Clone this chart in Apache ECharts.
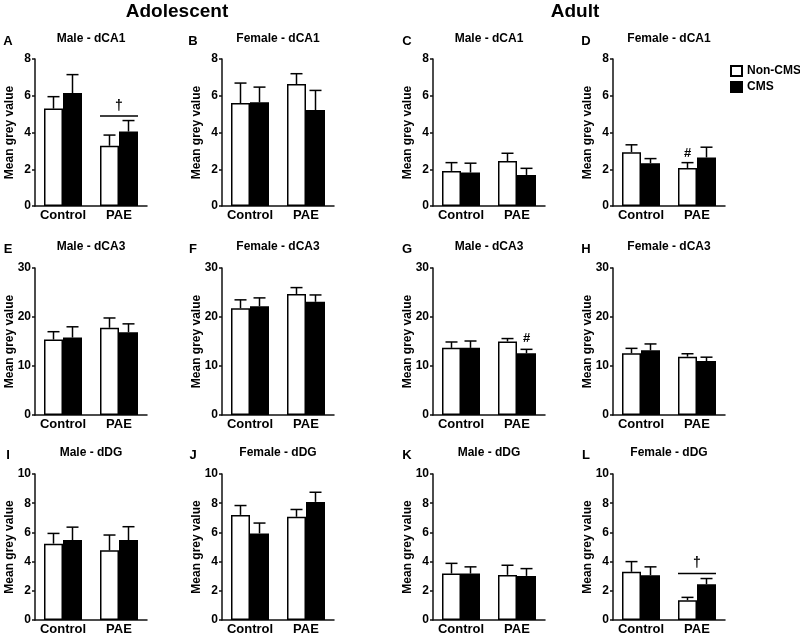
<!DOCTYPE html>
<html><head><meta charset="utf-8">
<script src="https://cdn.jsdelivr.net/npm/echarts@6/dist/echarts.min.js"></script>
<style>html,body{margin:0;padding:0;background:#fff}#chart{width:800px;height:636px}</style>
</head><body><div id="chart"></div>
<script>
// ---------- DATA ----------
const categories = ['Control', 'PAE'];
const seriesNames = ['Non-CMS', 'CMS'];
const groupHeaders = ['Adolescent', 'Adult'];
const panelLetters = ['A','B','C','D','E','F','G','H','I','J','K','L'];
const panelTitles = ['Male - dCA1','Female - dCA1','Male - dCA1','Female - dCA1',
                     'Male - dCA3','Female - dCA3','Male - dCA3','Female - dCA3',
                     'Male - dDG','Female - dDG','Male - dDG','Female - dDG'];
const yAxisName = 'Mean grey value';
const rowAxisMax = [8, 30, 10];
const rowAxisInterval = [2, 10, 2];
// [Control, PAE] per panel A..L
const nonCmsMean = [[5.3,3.28],[5.6,6.64],[1.91,2.45],[2.93,2.07],
                    [15.4,17.8],[21.8,24.7],[13.7,15.0],[12.6,11.9],
                    [5.23,4.77],[7.2,7.07],[3.18,3.09],[3.3,1.36]];
const nonCmsSem  = [[0.65,0.58],[1.09,0.56],[0.45,0.42],[0.40,0.29],
                    [1.6,2.0],[1.7,1.3],[1.2,0.6],[1.0,0.6],
                    [0.7,1.05],[0.64,0.5],[0.7,0.66],[0.7,0.19]];
const cmsMean    = [[6.15,4.05],[5.64,5.22],[1.82,1.69],[2.33,2.64],
                    [15.8,16.9],[22.2,23.1],[13.7,12.6],[13.2,11.0],
                    [5.48,5.48],[5.93,8.09],[3.18,3.02],[3.07,2.45]];
const cmsSem     = [[1.0,0.6],[0.83,1.07],[0.51,0.36],[0.25,0.56],
                    [2.2,1.7],[1.7,1.4],[1.4,0.8],[1.3,0.8],
                    [0.88,0.91],[0.71,0.66],[0.46,0.5],[0.57,0.39]];
// significance annotations
const daggerBrackets = [ {panel:0, cat:1, lineY:4.9, markY:5.45, mark:'\u2020'},
                         {panel:11, cat:1, lineY:3.18, markY:3.9, mark:'\u2020'} ];
const hashMarks = [ {panel:3, cat:1, bar:0, y:2.87, mark:'#'},
                    {panel:6, cat:1, bar:1, y:15.6, mark:'#'} ];

// ---------- LAYOUT ----------
const FONT = 'Liberation Sans, Arial, sans-serif';
const colLeft = [35, 222, 433, 613];
const gridWidth = 112;
const rowTop = [59, 268, 474];
const gridHeight = 147;
const titleY = [39, 247, 453];
const letterX = [8, 193, 407, 586];
const headerX = [177, 575];
const BAR_W = 19;

const chart = echarts.init(document.getElementById('chart'), null, {renderer:'canvas'});

function errorBarRenderer(offset) {
  return function (params, api) {
    const cat = api.value(0), mean = api.value(1), sem = api.value(2);
    const base = api.coord([cat, mean]);
    const top = api.coord([cat, mean + sem]);
    const x = base[0] + offset;
    return {type:'group', children:[
      {type:'line', shape:{x1:x, y1:base[1], x2:x, y2:top[1]}, style:{stroke:'#000', lineWidth:1.5}},
      {type:'line', shape:{x1:x-6, y1:top[1], x2:x+6, y2:top[1]}, style:{stroke:'#000', lineWidth:1.5}}
    ]};
  };
}

const grids = [], xAxes = [], yAxes = [], series = [], graphics = [];
for (let p = 0; p < 12; p++) {
  const r = Math.floor(p / 4), c = p % 4;
  grids.push({left: colLeft[c], top: rowTop[r], width: gridWidth, height: gridHeight});
  xAxes.push({type:'category', gridIndex:p, data:categories,
    axisLine:{lineStyle:{color:'#111', width:1.5}}, axisTick:{show:false},
    axisLabel:{interval:0, color:'#000', fontWeight:'bold', fontSize:13, fontFamily:FONT, margin:3}});
  yAxes.push({type:'value', gridIndex:p, min:0, max:rowAxisMax[r], interval:rowAxisInterval[r],
    name:yAxisName, nameLocation:'middle', nameGap:19, nameMoveOverlap:false,
    nameTextStyle:{color:'#000', fontWeight:'bold', fontSize:12, fontFamily:FONT},
    axisLine:{show:true, lineStyle:{color:'#111', width:1.5}},
    axisTick:{show:true, length:3, lineStyle:{color:'#111', width:1.5}},
    splitLine:{show:false},
    axisLabel:{color:'#000', fontWeight:'bold', fontSize:12, fontFamily:FONT, margin:4}});
  series.push({name:seriesNames[0], type:'bar', xAxisIndex:p, yAxisIndex:p, barWidth:BAR_W, barGap:'0%',
    itemStyle:{color:'#fff', borderColor:'#000', borderWidth:1.5}, data:nonCmsMean[p], z:2});
  series.push({name:seriesNames[1], type:'bar', xAxisIndex:p, yAxisIndex:p, barWidth:BAR_W, barGap:'0%',
    itemStyle:{color:'#000', borderColor:'#000', borderWidth:1.5}, data:cmsMean[p], z:2});
  series.push({type:'custom', xAxisIndex:p, yAxisIndex:p, z:3, silent:true, clip:false,
    renderItem:errorBarRenderer(-BAR_W/2),
    data:nonCmsMean[p].map((m,i)=>[i, m, nonCmsSem[p][i]])});
  series.push({type:'custom', xAxisIndex:p, yAxisIndex:p, z:3, silent:true, clip:false,
    renderItem:errorBarRenderer(BAR_W/2),
    data:cmsMean[p].map((m,i)=>[i, m, cmsSem[p][i]])});
  graphics.push({type:'text', x: colLeft[c] + gridWidth/2, y: titleY[r],
    style:{text:panelTitles[p], font:'bold 12px '+FONT, fill:'#000', textAlign:'center', textVerticalAlign:'middle', align:'center', verticalAlign:'middle'}});
  graphics.push({type:'text', x: letterX[c], y: titleY[r] + 2,
    style:{text:panelLetters[p], font:'bold 13px '+FONT, fill:'#000', textAlign:'center', textVerticalAlign:'middle', align:'center', verticalAlign:'middle'}});
}
headerX.forEach((x,i)=>graphics.push({type:'text', x:x, y:12,
  style:{text:groupHeaders[i], font:'bold 19px '+FONT, fill:'#000', textAlign:'center', textVerticalAlign:'middle', align:'center', verticalAlign:'middle'}}));

daggerBrackets.forEach(b=>{
  series.push({type:'custom', xAxisIndex:b.panel, yAxisIndex:b.panel, z:4, silent:true, clip:false,
    data:[[b.cat, b.lineY, b.markY]],
    renderItem:function(params, api){
      const pl = api.coord([api.value(0), api.value(1)]);
      const pm = api.coord([api.value(0), api.value(2)]);
      return {type:'group', children:[
        {type:'line', shape:{x1:pl[0]-BAR_W, y1:pl[1], x2:pl[0]+BAR_W, y2:pl[1]}, style:{stroke:'#000', lineWidth:1.5}},
        {type:'text', x:pm[0], y:pm[1], style:{text:b.mark, font:'bold 14px '+FONT, fill:'#000', align:'center', verticalAlign:'middle', textAlign:'center', textVerticalAlign:'middle'}}
      ]};
    }});
});
hashMarks.forEach(h=>{
  series.push({type:'custom', xAxisIndex:h.panel, yAxisIndex:h.panel, z:4, silent:true, clip:false,
    data:[[h.cat, h.y]],
    renderItem:function(params, api){
      const pt = api.coord([api.value(0), api.value(1)]);
      const x = pt[0] + (h.bar === 0 ? -BAR_W/2 : BAR_W/2);
      return {type:'text', x:x, y:pt[1], style:{text:h.mark, font:'bold 13px '+FONT, fill:'#000', align:'center', verticalAlign:'middle', textAlign:'center', textVerticalAlign:'middle'}};
    }});
});

chart.setOption({
  animation:false,
  backgroundColor:'#fff',
  grid:grids, xAxis:xAxes, yAxis:yAxes, series:series,
  legend:{data:seriesNames, orient:'vertical', left:730, top:65, padding:0, itemWidth:11, itemHeight:10, itemGap:4,
    icon:'rect', selectedMode:false,
    textStyle:{color:'#000', fontWeight:'bold', fontSize:12, fontFamily:FONT}},
  graphic:graphics
});
</script></body></html>
